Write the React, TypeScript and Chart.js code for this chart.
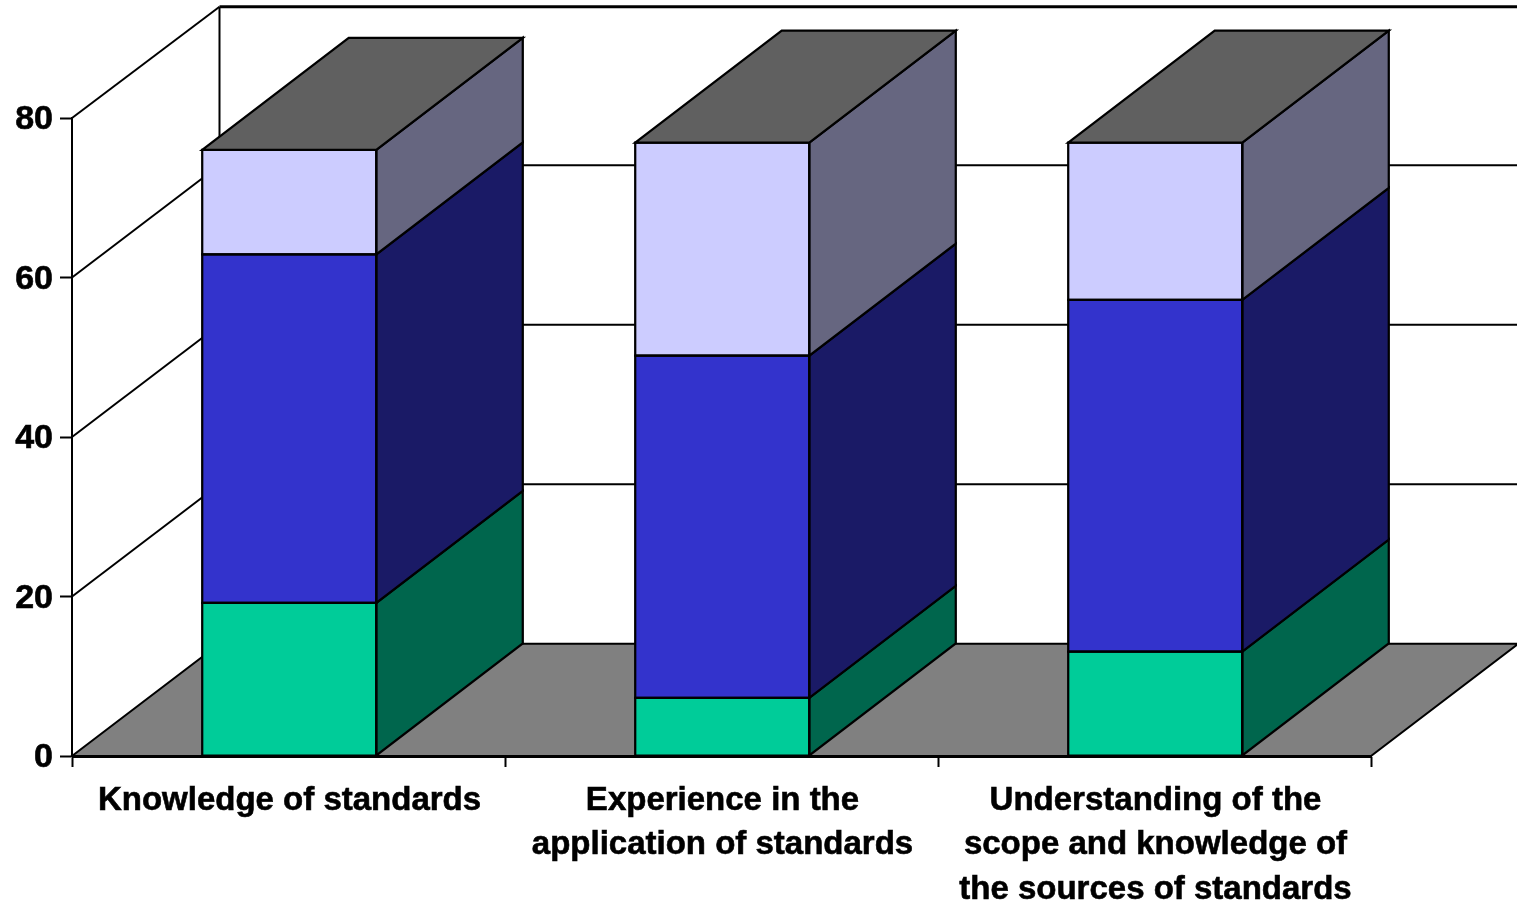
import React, { useEffect, useRef } from "react";
import { Chart, registerables } from "chart.js";

Chart.register(...registerables);

// Stacked shares per category
const categories = [
  ["Knowledge of standards"],
  ["Experience in the", "application of standards"],
  ["Understanding of the", "scope and knowledge of", "the sources of standards"],
];
const lowerValues = [19.2, 7.3, 13.1];
const middleValues = [43.7, 42.9, 44.1];
const upperValues = [13.1, 26.7, 19.7];

const frontColors = ["#00CC99", "#3333CC", "#CCCCFF"];
const sideColors = ["#00664D", "#1A1A66", "#666680"];
const topColor = "#606060";
const floorColor = "#808080";
const ink = "#000000";
const fontFace = '"Liberation Sans", Arial, sans-serif';

// Oblique projection of the depth axis, in pixels
const DEPTH_X = 147.5;
const DEPTH_Y = 112.3;
const COLUMN_DEPTH_X = 146.5;
const COLUMN_DEPTH_Y = 112;
// Columns sit a little right of the category centres
const COLUMN_SHIFT = 0.75;

function polygon(ctx: CanvasRenderingContext2D, pts: number[][], fill: string | null, lineWidth: number) {
  ctx.beginPath();
  pts.forEach(([x, y], i) => (i ? ctx.lineTo(x, y) : ctx.moveTo(x, y)));
  ctx.closePath();
  if (fill) {
    ctx.fillStyle = fill;
    ctx.fill();
  }
  ctx.lineWidth = lineWidth;
  ctx.strokeStyle = ink;
  ctx.lineJoin = "miter";
  ctx.stroke();
}

function segment(ctx: CanvasRenderingContext2D, x1: number, y1: number, x2: number, y2: number, lineWidth: number) {
  ctx.beginPath();
  ctx.moveTo(x1, y1);
  ctx.lineTo(x2, y2);
  ctx.lineWidth = lineWidth;
  ctx.strokeStyle = ink;
  ctx.stroke();
}

// Floor and walls behind the bars
const roomPlugin = {
  id: "room",
  beforeDraw(chart: any) {
    const { ctx, chartArea, scales } = chart;
    const { left, right, top, bottom } = chartArea;
    ctx.save();
    polygon(
      ctx,
      [
        [left, bottom],
        [left + DEPTH_X, bottom - DEPTH_Y],
        [right + DEPTH_X, bottom - DEPTH_Y],
        [right, bottom],
      ],
      floorColor,
      2
    );
    const topY = top - DEPTH_Y + 1;
    segment(ctx, left + DEPTH_X, bottom - DEPTH_Y, left + DEPTH_X, topY, 2);
    for (const tick of scales.y.ticks) {
      if (tick.value === 0) continue;
      const y = scales.y.getPixelForValue(tick.value);
      const isTop = y <= top + 0.5;
      const backY = isTop ? topY : y - DEPTH_Y;
      segment(ctx, left, y, left + DEPTH_X, backY, 2);
      segment(ctx, left + DEPTH_X, backY, right + DEPTH_X, backY, isTop ? 3 : 2);
    }
    ctx.restore();
  },
};

// Front outlines, side faces and the cap of each column
const prismPlugin = {
  id: "prism",
  beforeDatasetsDraw(chart: any) {
    chart.ctx.save();
    chart.ctx.translate(COLUMN_SHIFT, 0);
  },
  afterDatasetsDraw(chart: any) {
    const { ctx } = chart;
    const count = chart.data.datasets.length;
    for (let d = 0; d < count; d++) {
      const bars = chart.getDatasetMeta(d).data;
      bars.forEach((bar: any) => {
        const l = bar.x - bar.width / 2;
        const r = bar.x + bar.width / 2;
        polygon(
          ctx,
          [
            [r, bar.y],
            [r + COLUMN_DEPTH_X, bar.y - COLUMN_DEPTH_Y],
            [r + COLUMN_DEPTH_X, bar.base - COLUMN_DEPTH_Y],
            [r, bar.base],
          ],
          sideColors[d],
          2.25
        );
        polygon(
          ctx,
          [
            [l, bar.y],
            [r, bar.y],
            [r, bar.base],
            [l, bar.base],
          ],
          null,
          2.25
        );
        if (d === count - 1) {
          polygon(
            ctx,
            [
              [l, bar.y],
              [l + COLUMN_DEPTH_X, bar.y - COLUMN_DEPTH_Y],
              [r + COLUMN_DEPTH_X, bar.y - COLUMN_DEPTH_Y],
              [r, bar.y],
            ],
            topColor,
            2.25
          );
        }
      });
    }
    ctx.restore();
    // Heavy baseline on top of the column feet
    const { left, right, bottom } = chart.chartArea;
    ctx.save();
    segment(ctx, left, bottom + 0.5, right, bottom + 0.5, 3);
    ctx.restore();
  },
};

export default function App() {
  const canvasRef = useRef<HTMLCanvasElement | null>(null);

  useEffect(() => {
    const series = [lowerValues, middleValues, upperValues];
    const chart = new Chart(canvasRef.current as HTMLCanvasElement, {
      type: "bar",
      data: {
        labels: categories,
        datasets: series.map((data, i) => ({
          data,
          backgroundColor: frontColors[i],
          borderWidth: 0,
          barPercentage: 0.402,
          categoryPercentage: 1,
        })),
      },
      plugins: [roomPlugin, prismPlugin],
      options: {
        responsive: false,
        animation: false,
        layout: { padding: { left: 0, right: 146, top: 118, bottom: 0 } },
        plugins: { legend: { display: false }, tooltip: { enabled: false } },
        scales: {
          x: {
            stacked: true,
            afterFit: (scale: any) => {
              scale.height = 147;
            },
            grid: {
              offset: true,
              drawOnChartArea: false,
              drawTicks: true,
              tickLength: 11,
              tickWidth: 2,
              tickColor: ink,
            },
            border: { display: true, color: ink, width: 2 },
            ticks: {
              color: ink,
              autoSkip: false,
              maxRotation: 0,
              minRotation: 0,
              padding: 12,
              labelOffset: 1,
              textStrokeColor: ink,
              textStrokeWidth: 0.6,
              font: { family: fontFace, weight: "bold", size: 33, lineHeight: 1.34 },
            },
          },
          y: {
            stacked: true,
            min: 0,
            max: 80,
            afterFit: (scale: any) => {
              scale.width = 72;
            },
            grid: {
              drawOnChartArea: false,
              drawTicks: true,
              tickLength: 12,
              tickWidth: 2,
              tickColor: ink,
            },
            border: { display: true, color: ink, width: 2 },
            ticks: {
              stepSize: 20,
              color: ink,
              padding: 7,
              labelOffset: 2,
              textStrokeColor: ink,
              textStrokeWidth: 0.6,
              font: { family: fontFace, weight: "bold", size: 34 },
            },
          },
        },
      },
    } as any);
    return () => chart.destroy();
  }, []);

  return (
    <canvas
      ref={canvasRef}
      width={1517}
      height={903}
      style={{ position: "absolute", left: 0, top: 0, width: 1517, height: 903, display: "block", background: "#fff" }}
    />
  );
}
